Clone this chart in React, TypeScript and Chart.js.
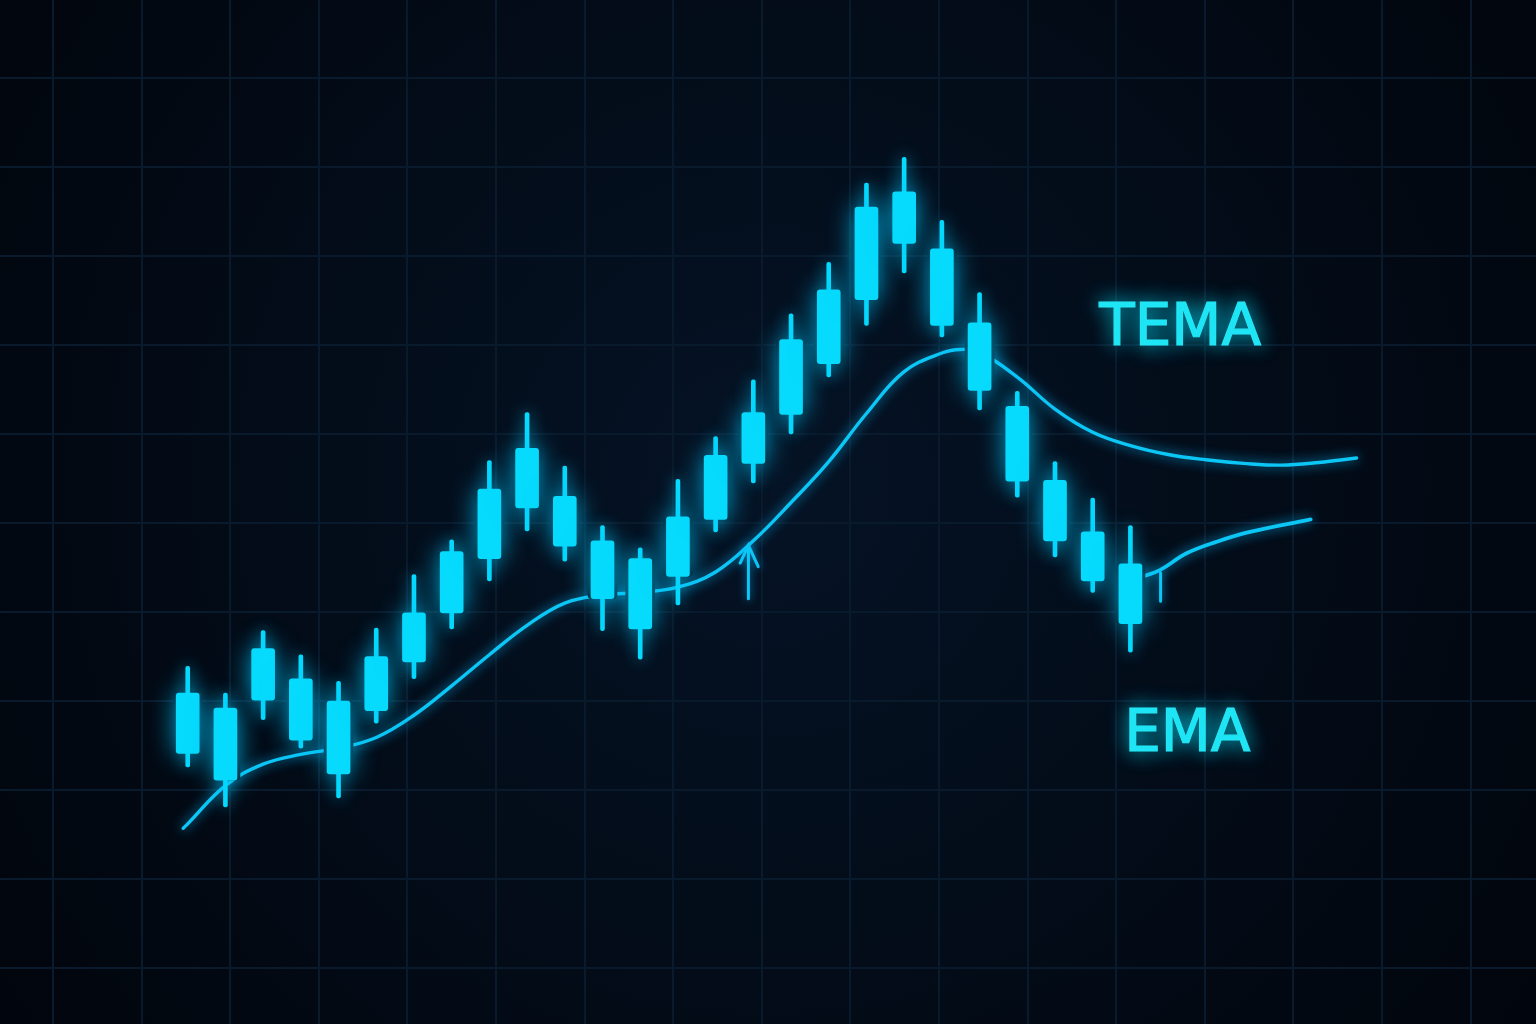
import React, { useEffect, useRef } from "react";
import { Chart, registerables } from "chart.js";

Chart.register(...registerables);

// ---- data ----
const sessions = [0, 1, 2, 3, 4, 5, 6, 7, 8, 9, 10, 11, 12, 13, 14, 15, 16, 17, 18, 19, 20, 21, 22, 23, 24, 25];
const opens = [124.1, 129.2, 130.1, 132.5, 130.0, 128.9, 134.4, 139.9, 146.0, 151.7, 153.0, 148.0, 146.0, 144.0, 150.4, 156.7, 162.2, 167.9, 175.1, 181.4, 180.8, 172.5, 163.1, 154.8, 149.0, 145.4];
const closes = [130.9, 121.1, 135.9, 125.6, 121.8, 135.0, 139.9, 146.8, 153.8, 158.4, 147.4, 141.5, 138.1, 150.7, 157.6, 162.4, 170.6, 176.2, 185.5, 187.2, 172.2, 164.9, 154.7, 148.0, 143.5, 138.7];
const highs = [133.9, 130.9, 137.9, 135.2, 132.2, 138.2, 144.2, 148.1, 157.0, 162.4, 156.4, 149.7, 147.2, 154.9, 159.7, 166.1, 173.5, 179.3, 188.2, 191.1, 184.0, 175.9, 164.8, 156.9, 152.8, 149.7];
const lows = [122.6, 118.1, 127.9, 124.7, 119.1, 127.5, 132.5, 138.1, 143.5, 149.1, 145.7, 137.9, 134.7, 140.8, 149.0, 154.5, 160.0, 166.4, 172.2, 178.1, 170.9, 162.7, 152.9, 146.2, 142.2, 135.5];

const temaX = [-0.12, 0, 1, 2, 3, 4, 5, 6, 7, 8, 9, 10, 11, 12, 13, 14, 15, 16, 17, 18, 19, 20, 20.5, 21, 22, 23, 24, 25, 26, 27, 28, 29, 30, 31];
const temaY = [115.7, 116.2, 120.5, 122.9, 124.0, 124.7, 125.9, 128.4, 131.7, 135.2, 138.5, 141.0, 141.9, 142.2, 142.8, 144.5, 148.0, 152.3, 156.9, 162.3, 167.0, 169.1, 169.5, 169.2, 166.4, 162.8, 160.2, 158.7, 157.7, 157.1, 156.7, 156.5, 156.8, 157.3];

const emaX = [25.33, 25.78, 26.49, 27.29, 28.17, 29.78];
const emaY = [144.0, 144.7, 146.6, 147.9, 149.0, 150.4];

// small signal marks (arrow + stub), null = break
const markerX = [14.65, 14.87, 15.13, 15.13, 14.87, 14.87, 25.8, 25.8, 25.8];
const markerY = [145.5, 147.5, 145.1, null, 147.5, 141.5, null, 144.4, 141.2];

const labelTexts = ["TEMA", "EMA"];
const labelX = [26.32, 26.51];
const labelY = [170.0, 124.4];

// ---- styles ----
const BG = "#030b17";
const CANDLE = "#06dafd";
const LINE = "#0cc6f5";
const TEXT = "#22e6f4";
const GRID = "#0a1a2d";

const glowPlugin = {
  id: "glow",
  beforeDatasetDraw(chart: any, args: any) {
    const ds: any = chart.data.datasets[args.index];
    if (ds.glow) {
      const ctx = chart.ctx;
      ctx.save();
      ctx.shadowColor = ds.glowColor || "rgba(0,200,255,0.8)";
      ctx.shadowBlur = ds.glow;
    }
  },
  afterDatasetDraw(chart: any, args: any) {
    const ds: any = chart.data.datasets[args.index];
    if (ds.glow) chart.ctx.restore();
  },
};

const bgPlugin = {
  id: "bg",
  beforeDraw(chart: any) {
    const { ctx, width, height } = chart;
    ctx.save();
    const g = ctx.createRadialGradient(width * 0.5, height * 0.47, 0, width * 0.5, height * 0.47, width * 0.62);
    g.addColorStop(0, "#051325");
    g.addColorStop(1, "#01050c");
    ctx.fillStyle = g;
    ctx.fillRect(0, 0, width, height);
    ctx.restore();
  },
};

const labelPlugin = {
  id: "labels",
  afterDatasetsDraw(chart: any) {
    const { ctx, scales } = chart;
    ctx.save();
    ctx.font = '58px "DejaVu Sans", sans-serif';
    ctx.textAlign = "center";
    ctx.textBaseline = "alphabetic";
    ctx.fillStyle = TEXT;
    ctx.strokeStyle = TEXT;
    ctx.lineWidth = 1.2;
    ctx.shadowColor = "rgba(0,225,255,0.85)";
    ctx.shadowBlur = 20;
    labelTexts.forEach((t, i) => {
      const px = scales.x.getPixelForValue(labelX[i]);
      const py = scales.y.getPixelForValue(labelY[i]);
      ctx.fillText(t, px, py);
      ctx.strokeText(t, px, py);
    });
    ctx.restore();
  },
};

export default function App() {
  const ref = useRef<HTMLCanvasElement>(null);

  useEffect(() => {
    document.body.style.margin = "0";
    document.body.style.background = "#020812";
    const canvas = ref.current!;
    const bodyData = sessions.map((s, i) => ({ x: s, y: [opens[i], closes[i]] }));
    const wickData = sessions.map((s, i) => ({ x: s, y: [lows[i], highs[i]] }));

    const chart = new Chart(canvas, {
      type: "bar",
      data: {
        datasets: [
          {
            type: "line",
            label: "TEMA",
            data: temaX.map((x, i) => ({ x, y: temaY[i] })),
            borderColor: LINE,
            borderWidth: 3.4,
            pointRadius: 0,
            tension: 0.4,
            borderCapStyle: "round",
            order: 10,
            glow: 12,
            glowColor: "rgba(0,185,255,0.9)",
          } as any,
          {
            type: "line",
            label: "EMA",
            data: emaX.map((x, i) => ({ x, y: emaY[i] })),
            borderColor: LINE,
            borderWidth: 3.8,
            pointRadius: 0,
            tension: 0.4,
            borderCapStyle: "round",
            order: 9,
            glow: 12,
            glowColor: "rgba(0,185,255,0.9)",
          } as any,
          {
            type: "bar",
            label: "halo",
            data: bodyData,
            backgroundColor: BG,
            barThickness: 29,
            grouped: false,
            borderSkipped: false,
            borderRadius: 4,
            order: 5,
          } as any,
          {
            type: "bar",
            label: "wicks",
            data: wickData,
            backgroundColor: CANDLE,
            barThickness: 4,
            grouped: false,
            borderSkipped: false,
            borderRadius: 2,
            order: 4,
            glow: 16,
            glowColor: "rgba(0,200,255,0.8)",
          } as any,
          {
            type: "bar",
            label: "bodies",
            data: bodyData,
            backgroundColor: CANDLE,
            barThickness: 23,
            grouped: false,
            borderSkipped: false,
            borderRadius: 3,
            order: 3,
            glow: 26,
            glowColor: "rgba(0,200,255,0.8)",
          } as any,
          {
            type: "line",
            label: "signal",
            data: markerX.map((x, i) => ({ x, y: markerY[i] })),
            borderColor: LINE,
            borderWidth: 3,
            pointRadius: 0,
            tension: 0,
            spanGaps: false,
            borderCapStyle: "round",
            order: 2,
            glow: 8,
            glowColor: "rgba(0,180,255,0.8)",
          } as any,
        ],
      },
      options: {
        responsive: false,
        maintainAspectRatio: false,
        devicePixelRatio: 1,
        animation: false,
        layout: { padding: 0 },
        plugins: { legend: { display: false }, tooltip: { enabled: false } },
        scales: {
          x: {
            type: "linear",
            display: false,
            min: -4.978,
            max: 35.756,
            offset: false,
            grid: { offset: false },
          },
          xg: {
            type: "linear",
            position: "bottom",
            display: true,
            min: -0.598,
            max: 16.738,
            offset: false,
            border: { display: false },
            ticks: { display: false, stepSize: 1, includeBounds: false },
            grid: { color: GRID, lineWidth: 2, drawTicks: false, offset: false },
          },
          y: {
            type: "linear",
            position: "left",
            display: true,
            min: 93.708,
            max: 208.764,
            beginAtZero: false,
            border: { display: false },
            ticks: { display: false, stepSize: 10, includeBounds: false },
            grid: { color: GRID, lineWidth: 2, drawTicks: false },
          },
        },
      } as any,
      plugins: [bgPlugin, glowPlugin, labelPlugin],
    });
    return () => chart.destroy();
  }, []);

  return (
    <canvas
      ref={ref}
      width={1536}
      height={1024}
      style={{ display: "block", width: 1536, height: 1024 }}
    />
  );
}
